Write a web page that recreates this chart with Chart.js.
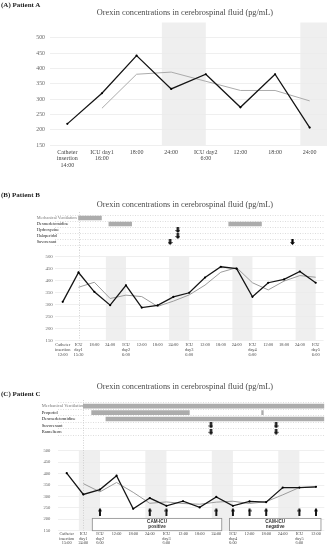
<!DOCTYPE html>
<html>
<head>
<meta charset="utf-8">
<script src="https://cdn.jsdelivr.net/npm/chart.js@4.4.1/dist/chart.umd.min.js"></script>
<style>
  body { margin: 0; background: #fff; width: 331px; height: 548px; overflow: hidden; position: relative; font-family: "Liberation Serif", serif; }
  canvas { position: absolute; left: 0; }
  .panel { position: absolute; left: 1px; font-weight: bold; font-size: 7px; color: #222; line-height: 1; white-space: nowrap; will-change: transform; }
  .title { position: absolute; left: 0; width: 370px; text-align: center; font-size: 8.3px; color: #4a4a4a; line-height: 1; white-space: nowrap; will-change: transform; }
</style>
</head>
<body>
<div class="panel" style="top:1.5px">(A) Patient A</div>
<div class="title" style="top:9px">Orexin concentrations in cerebrospinal fluid (pg/mL)</div>
<canvas id="chartA" width="331" height="155" style="top:14px"></canvas>

<div class="panel" style="top:191.5px">(B) Patient B</div>
<div class="title" style="top:201px">Orexin concentrations in cerebrospinal fluid (pg/mL)</div>
<canvas id="medsB" width="331" height="40" style="top:210px"></canvas>
<canvas id="chartB" width="331" height="110" style="top:250px"></canvas>

<div class="title" style="top:382.5px">Orexin concentrations in cerebrospinal fluid (pg/mL)</div>
<div class="panel" style="top:390.5px">(C) Patient C</div>
<canvas id="medsC" width="331" height="42" style="top:398px"></canvas>
<canvas id="chartC" width="331" height="108" style="top:440px"></canvas>

<script>
// --- Patient A ---
const labelsA = [['Catheter', 'insertion', '14:00'], ['ICU day1', '16:00'], '18:00', '24:00', ['ICU day2', '6:00'], '12:00', '18:00', '24:00'];
const orexinA = [219, 319, 442, 333, 381, 273, 381, 207];
const averageA = [null, 270, 381, 388, 358, 328, 328, 294];
const nightsA = [3, 7];

// --- Patient B ---
const labelsB = [['Catheter', 'insertion', '12:00'], ['ICU', 'day1', '15:30'], '18:00', '24:00', ['ICU', 'day2', '6:00'],
  '12:00', '18:00', '24:00', ['ICU', 'day3', '6:00'], '12:00', '18:00', '24:00', ['ICU', 'day4', '6:00'],
  '12:00', '18:00', '24:00', ['ICU', 'day5', '6:00']];
const orexinB = [311, 434, 353, 297, 380, 287, 296, 332, 349, 413, 458, 450, 332, 391, 405, 438, 391];
const averageB = [null, 372, 393, 325, 339, 333, 292, 314, 340, 381, 435, 454, 391, 361, 398, 421, 414];
const nightsB = [3, 7, 11, 15];
const medsB = ['Mechanical Ventilation', 'Dexmedetomidine', 'Hydroxyzine', 'Haloperidol', 'Suvorexant'];
const barMedB = ['Mechanical Ventilation', 'Dexmedetomidine', 'Dexmedetomidine'];
const barFromB = [1.0, 2.92, 10.5];
const barToB = [2.45, 4.36, 12.57];
const doseMedB = ['Hydroxyzine', 'Haloperidol', 'Suvorexant', 'Suvorexant'];
const doseAtB = [7.28, 7.28, 6.79, 14.53];

// --- Patient C ---
const labelsC = [['Catheter', 'insertion', '15:00'], ['ICU', 'day1', '24:00'], ['ICU', 'day2', '6:00'], '12:00', '18:00', '24:00',
  ['ICU', 'day3', '6:00'], '12:00', '18:00', '24:00', ['ICU', 'day4', '6:00'], '12:00', '18:00', '24:00',
  ['ICU', 'day5', '6:00'], '12:00'];
const orexinC = [402, 309, 330, 391, 246, 293, 259, 279, 252, 298, 259, 278, 275, 339, 339, 342];
const averageC = [null, 356, 320, 361, 318, 270, 276, 269, 266, 275, 279, 269, 277, 307, 339, 341];
const nightsC = [1, 5, 9, 13];
const medsC = ['Mechanical Ventilation', 'Propofol', 'Dexmedetomidine', 'Suvorexant', 'Ramelteon'];
const barMedC = ['Mechanical Ventilation', 'Propofol', 'Propofol', 'Dexmedetomidine'];
const barFromC = [1.0, 1.5, 11.73, 2.36];
const barToC = [15.5, 7.38, 11.83, 15.5];
const doseMedC = ['Suvorexant', 'Suvorexant', 'Ramelteon', 'Ramelteon'];
const doseAtC = [8.68, 12.6, 8.68, 12.6];
const assessedC = [2, 5, 6, 9, 10, 11, 12, 14, 15];
const assessLevelC = 233;
const camFromC = [1.54, 9.79];
const camToC = [9.33, 15.3];
const camTextC = [['CAM-ICU', 'positive'], ['CAM-ICU', 'negative']];
const camTopC = 204;

Chart.defaults.font.family = '"Liberation Serif", serif';
Chart.defaults.animation = false;

function arrowImage(w, h, up) {
  const c = document.createElement('canvas');
  c.width = w; c.height = h;
  const g = c.getContext('2d');
  g.fillStyle = '#000';
  if (up) { g.translate(0, h); g.scale(1, -1); }
  const head = h * 0.45, shaft = w * 0.45;
  g.fillRect((w - shaft) / 2, 0, shaft, h - head + 0.5);
  g.beginPath();
  g.moveTo(0, h - head); g.lineTo(w, h - head); g.lineTo(w / 2, h);
  g.closePath(); g.fill();
  return c;
}
const downArrow = arrowImage(5, 6, false);
const upArrow = arrowImage(4, 8, true);

// night bands, ICU admission line, CAM-ICU boxes
const decor = {
  id: 'decor',
  beforeDraw(chart, args, opts) {
    const { ctx, chartArea: a, scales: { x } } = chart;
    ctx.save();
    ctx.fillStyle = '#efefef';
    (opts.nights || []).forEach(i => {
      const x0 = Math.max(x.getPixelForValue(i - 0.27), a.left);
      const x1 = Math.min(x.getPixelForValue(i + 1), a.right);
      ctx.fillRect(x0, a.top, x1 - x0, a.bottom - a.top);
    });
    ctx.restore();
  },
  beforeDatasetsDraw(chart, args, opts) {
    const { ctx, chartArea: a, scales: { x, y } } = chart;
    ctx.save();
    if (opts.dashAt != null) {
      const px = Math.round(x.getPixelForValue(opts.dashAt)) + 0.5;
      ctx.strokeStyle = '#c8c8c8';
      ctx.lineWidth = 0.8;
      ctx.setLineDash([1, 1.5]);
      ctx.beginPath();
      ctx.moveTo(px, opts.toCanvasTop ? 0 : a.top - 3);
      ctx.lineTo(px, opts.toCanvasBottom ? chart.height : a.bottom);
      ctx.stroke();
      ctx.setLineDash([]);
    }
    (opts.boxFrom || []).forEach((f, k) => {
      const x0 = x.getPixelForValue(f), x1 = x.getPixelForValue(opts.boxTo[k]);
      const y0 = y.getPixelForValue(opts.boxTop), y1 = y.getPixelForValue(150);
      ctx.fillStyle = '#fff';
      ctx.fillRect(x0, y0, x1 - x0, y1 - y0);
      ctx.strokeStyle = '#8a8a8a';
      ctx.lineWidth = 0.8;
      ctx.strokeRect(x0, y0, x1 - x0, y1 - y0);
      ctx.fillStyle = '#333';
      ctx.font = 'bold 4.6px "Liberation Sans", sans-serif';
      ctx.textAlign = 'center';
      ctx.textBaseline = 'middle';
      opts.boxText[k].forEach((t, j) => ctx.fillText(t, (x0 + x1) / 2, y0 + 3.6 + j * 4.8));
    });
    ctx.restore();
  }
};

function makeLine(id, labels, orexin, average, s) {
  return new Chart(document.getElementById(id), {
    type: 'line',
    data: {
      labels: labels,
      datasets: [
        { data: orexin, borderColor: '#151515', borderWidth: 1.3, pointRadius: 1.1, pointBorderWidth: 0, pointBackgroundColor: '#000', tension: 0 },
        { data: average, borderColor: s.grayColor, borderWidth: 1, pointRadius: 0, tension: 0 }
      ].concat(s.extra || [])
    },
    options: {
      responsive: false,
      layout: { padding: s.padding },
      plugins: { legend: { display: false }, tooltip: { enabled: false }, decor: s.decor },
      scales: {
        x: {
          offset: true,
          grid: { display: false, drawTicks: false },
          border: { display: false },
          ticks: { autoSkip: false, maxRotation: 0, padding: s.xPad, color: '#444', font: { size: s.xFont, lineHeight: 1.08 } },
          afterFit: sc => { sc.height = s.xHeight; }
        },
        y: {
          min: 150, max: s.yMax,
          grid: { color: c => c.tick.value > 500 ? 'rgba(0,0,0,0)' : '#ebebeb', drawTicks: false, lineWidth: 0.8 },
          border: { display: false },
          ticks: { stepSize: 50, padding: s.yPad, color: '#666', font: { size: s.yFont }, callback: v => v > 500 ? '' : v },
          afterFit: sc => { sc.width = s.yWidth; }
        }
      }
    },
    plugins: [decor]
  });
}

function makeMeds(id, meds, barMed, barFrom, barTo, doseMed, doseAt, n, s) {
  return new Chart(document.getElementById(id), {
    type: 'bar',
    data: {
      labels: meds,
      datasets: [
        { data: barMed.map((m, k) => ({ x: [barFrom[k], barTo[k]], y: m })), backgroundColor: '#acacac', barThickness: 4, borderSkipped: false },
        { type: 'scatter', data: doseMed.map((m, k) => ({ x: doseAt[k], y: m })), pointStyle: downArrow, pointRadius: 3 }
      ]
    },
    options: {
      indexAxis: 'y',
      responsive: false,
      layout: { padding: s.padding },
      plugins: { legend: { display: false }, tooltip: { enabled: false }, decor: { dashAt: 1, toCanvasBottom: true } },
      scales: {
        x: { type: 'linear', min: -0.5, max: n - 0.5, display: false },
        y: {
          type: 'category', offset: true,
          grid: { color: '#cfcfcf', drawTicks: false, lineWidth: 0.7 },
          border: { display: false, dash: [1, 1.5] },
          // mirrored labels are not clipped to the axis box, so they can start left of it
          ticks: { autoSkip: false, mirror: true, padding: -s.yWidth, color: c => c.index === 0 ? '#777' : '#1a1a1a', font: { size: s.font } },
          afterFit: sc => { sc.width = s.yWidth; }
        }
      }
    },
    plugins: [decor]
  });
}

makeLine('chartA', labelsA, orexinA, averageA, {
  grayColor: '#ababab', yMax: 550, padding: { top: 5, right: 2 },
  xPad: 4, xFont: 6, xHeight: 24, yPad: 5, yFont: 5.8, yWidth: 50,
  decor: { nights: nightsA }
});

makeMeds('medsB', medsB, barMedB, barFromB, barToB, doseMedB, doseAtB, labelsB.length, {
  padding: { top: 2.4, bottom: 1.4, left: 36.7, right: 7.4 }, yWidth: 18.1, font: 4.3
});
makeLine('chartB', labelsB, orexinB, averageB, {
  grayColor: '#9c9c9c', yMax: 500, padding: { top: 6.7, right: 7.4 },
  xPad: 2.5, xFont: 4.4, xHeight: 19.7, yPad: 2, yFont: 4.9, yWidth: 54.8,
  decor: { nights: nightsB, dashAt: 1, toCanvasTop: true }
});

makeMeds('medsC', medsC, barMedC, barFromC, barToC, doseMedC, doseAtC, labelsC.length, {
  padding: { top: 3.6, bottom: 4.3, left: 41.7, right: 6.7 }, yWidth: 16.7, font: 4.6
});
makeLine('chartC', labelsC, orexinC, averageC, {
  grayColor: '#9c9c9c', yMax: 500, padding: { top: 5.3, right: 6.7 },
  xPad: 0.8, xFont: 4.3, xHeight: 17.3, yPad: 8, yFont: 4.6, yWidth: 58.4,
  decor: { nights: nightsC, dashAt: 1, toCanvasTop: true, boxFrom: camFromC, boxTo: camToC, boxText: camTextC, boxTop: camTopC },
  extra: [{ data: labelsC.map((_, i) => assessedC.includes(i) ? assessLevelC : null), showLine: false, pointStyle: upArrow, pointRadius: 3 }]
});
</script>
</body>
</html>
